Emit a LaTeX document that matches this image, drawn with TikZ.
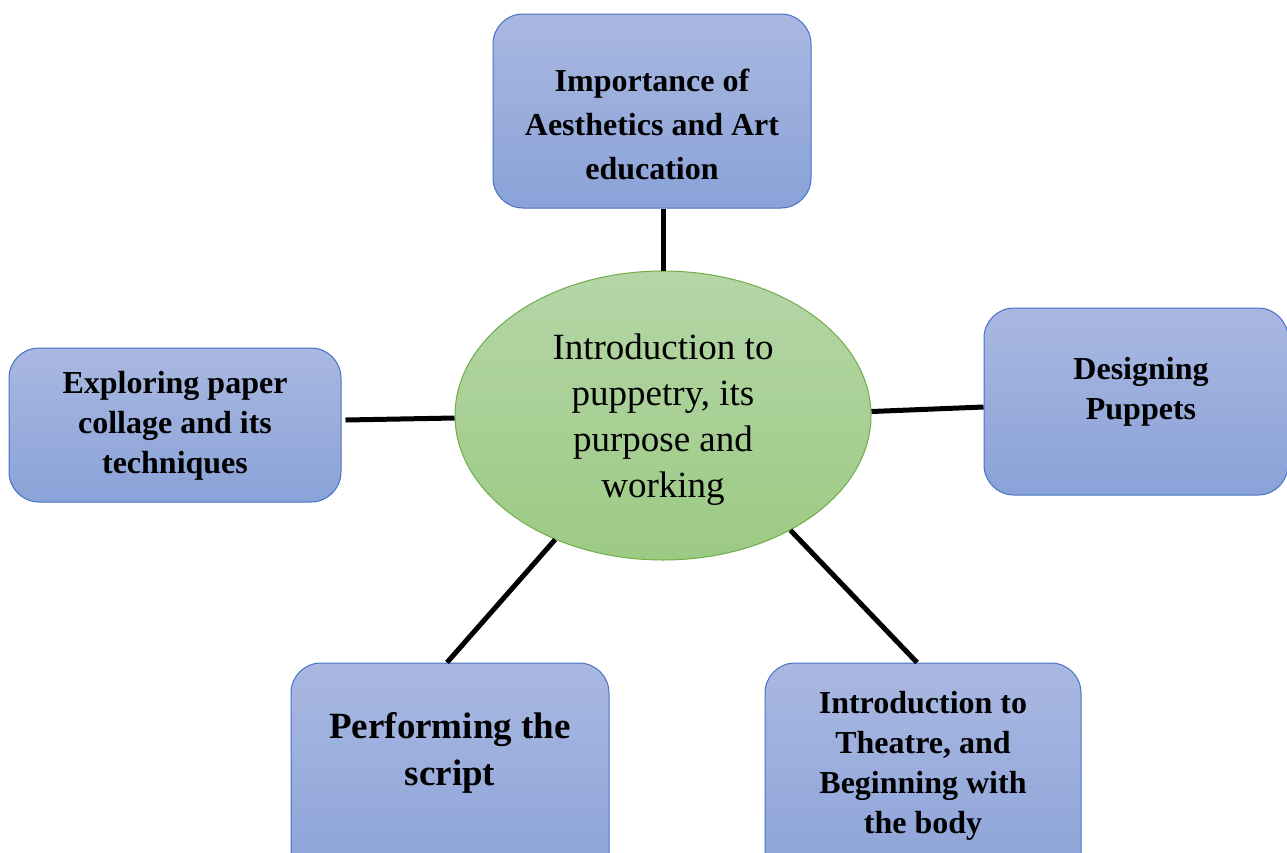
\documentclass[tikz,border=0pt]{standalone}
\usepackage{fontspec}
\setmainfont{Liberation Serif}
\usetikzlibrary{shapes.geometric}
\definecolor{boxtop}{HTML}{A9B8E1}
\definecolor{boxbot}{HTML}{8AA2D8}
\definecolor{boxline}{HTML}{4472C4}
\definecolor{elltop}{HTML}{B5D6A7}
\definecolor{ellbot}{HTML}{9CCA84}
\definecolor{ellline}{HTML}{70AD47}
\tikzset{
  box/.style={draw=boxline, line width=1pt, rounded corners=30pt, top color=boxtop, bottom color=boxbot, inner sep=0pt},
  lbl/.style={align=center, font=\bfseries\fontsize{32}{40}\selectfont, inner sep=0pt},
  conn/.style={line width=5pt, black},
}
\begin{document}
\begin{tikzpicture}[x=1pt, y=-1pt]
\useasboundingbox (0,0) rectangle (1287,852);
\clip (0,0) rectangle (1287,852);
% boxes
\node[box, minimum width=318pt, minimum height=194pt] (tb) at (652,111) {};
\node[lbl, font=\bfseries\fontsize{32}{44}\selectfont] (tbt) at (652,124) {Importance of\\Aesthetics and Art\\education};
\node[box, minimum width=304pt, minimum height=187pt] (rb) at (1136,401.5) {};
\node[lbl] (rbt) at (1141,392) {Designing\\Puppets};
\node[box, minimum width=332pt, minimum height=154pt] (lb) at (175,425) {};
\node[lbl] (lbt) at (175,426) {Exploring paper\\collage and its\\techniques};
\node[box, minimum width=318pt, minimum height=230pt] (bl) at (450,778) {};
\node[lbl, font=\bfseries\fontsize{37}{47}\selectfont] (blt) at (450,753) {Performing the\\script};
\node[box, minimum width=316pt, minimum height=230pt] (br) at (923,778) {};
\node[lbl] (brt) at (923,766) {Introduction to\\Theatre, and\\Beginning with\\the body};
% center
\node[ellipse, draw=ellline, line width=1pt, top color=elltop, bottom color=ellbot,
      minimum width=416pt, minimum height=289pt, inner sep=0pt] (c) at (663,415.5) {};
\node[align=center, inner sep=0pt, font=\fontsize{37}{46}\selectfont] (ct) at (663,420)
      {Introduction to\\puppetry, its\\purpose and\\working};
% connectors
\draw[conn] (c.north) -- (c.north |- tb.south);
\draw[conn] ([yshift=4pt]c.east) -- ([yshift=-5.5pt]rb.west);
\draw[conn] ([yshift=-2.5pt]c.west) -- ([xshift=4pt,yshift=5pt]lb.east);
\draw[conn] (c.-131.3) -- ([xshift=-3pt]bl.north);
\draw[conn] (c.-42.5) -- ([xshift=-6pt]br.north);
\end{tikzpicture}
\end{document}
